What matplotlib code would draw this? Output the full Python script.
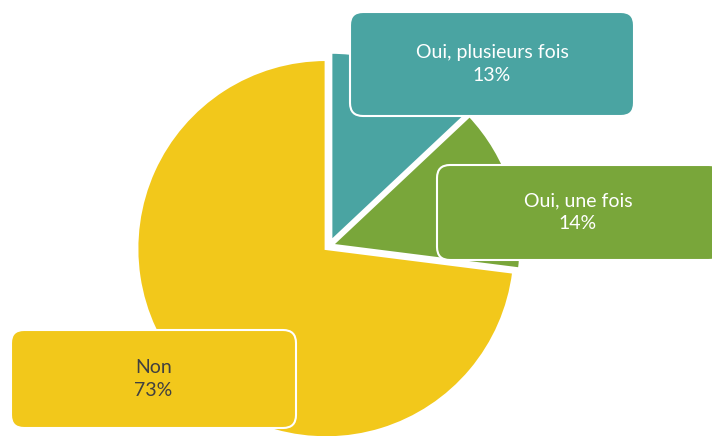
import matplotlib.pyplot as plt
from matplotlib.patches import FancyBboxPatch

# Data
labels = ['Oui, plusieurs fois', 'Oui, une fois', 'Non']
values = [13, 14, 73]
colors = ['#4AA4A2', '#79A63A', '#F2C81B']
text_colors = ['#FFFFFF', '#FFFFFF', '#404040']

W, H = 712, 436
fig = plt.figure(figsize=(W / 100, H / 100), dpi=100)
ax = fig.add_axes([0, 0, 1, 1])

# pie drawn in pixel units (y up); explode is in data units here
ax.pie(values, colors=colors, startangle=90, counterclock=False,
       explode=[5, 3, 4], radius=189, center=(329, H - 246),
       wedgeprops=dict(edgecolor='white', linewidth=2), frame=True)
ax.set_xlim(0, W)
ax.set_ylim(0, H)
ax.set_aspect('equal')
ax.axis('off')

# label boxes: (left, top, right, bottom) in pixels from top-left
boxes = [(350, 12, 634, 116), (437, 165, 722, 260), (11, 330, 296, 428)]

for lab, val, col, tcol, (x0, y0, x1, y1) in zip(labels, values, colors, text_colors, boxes):
    box = FancyBboxPatch((x0, H - y1), x1 - x0, y1 - y0,
                         boxstyle='round,pad=0,rounding_size=13',
                         facecolor=col, edgecolor='white', linewidth=1.5, zorder=5)
    ax.add_patch(box)
    cx = (x0 + x1) / 2 if x1 <= W else 578
    cy = H - (y0 + y1) / 2
    ax.text(cx, cy, f'{lab}\n{val}%', ha='center', va='center', color=tcol,
            fontsize=14, family='Lato', linespacing=1.4, zorder=6)

plt.savefig('out.png', dpi=100)
